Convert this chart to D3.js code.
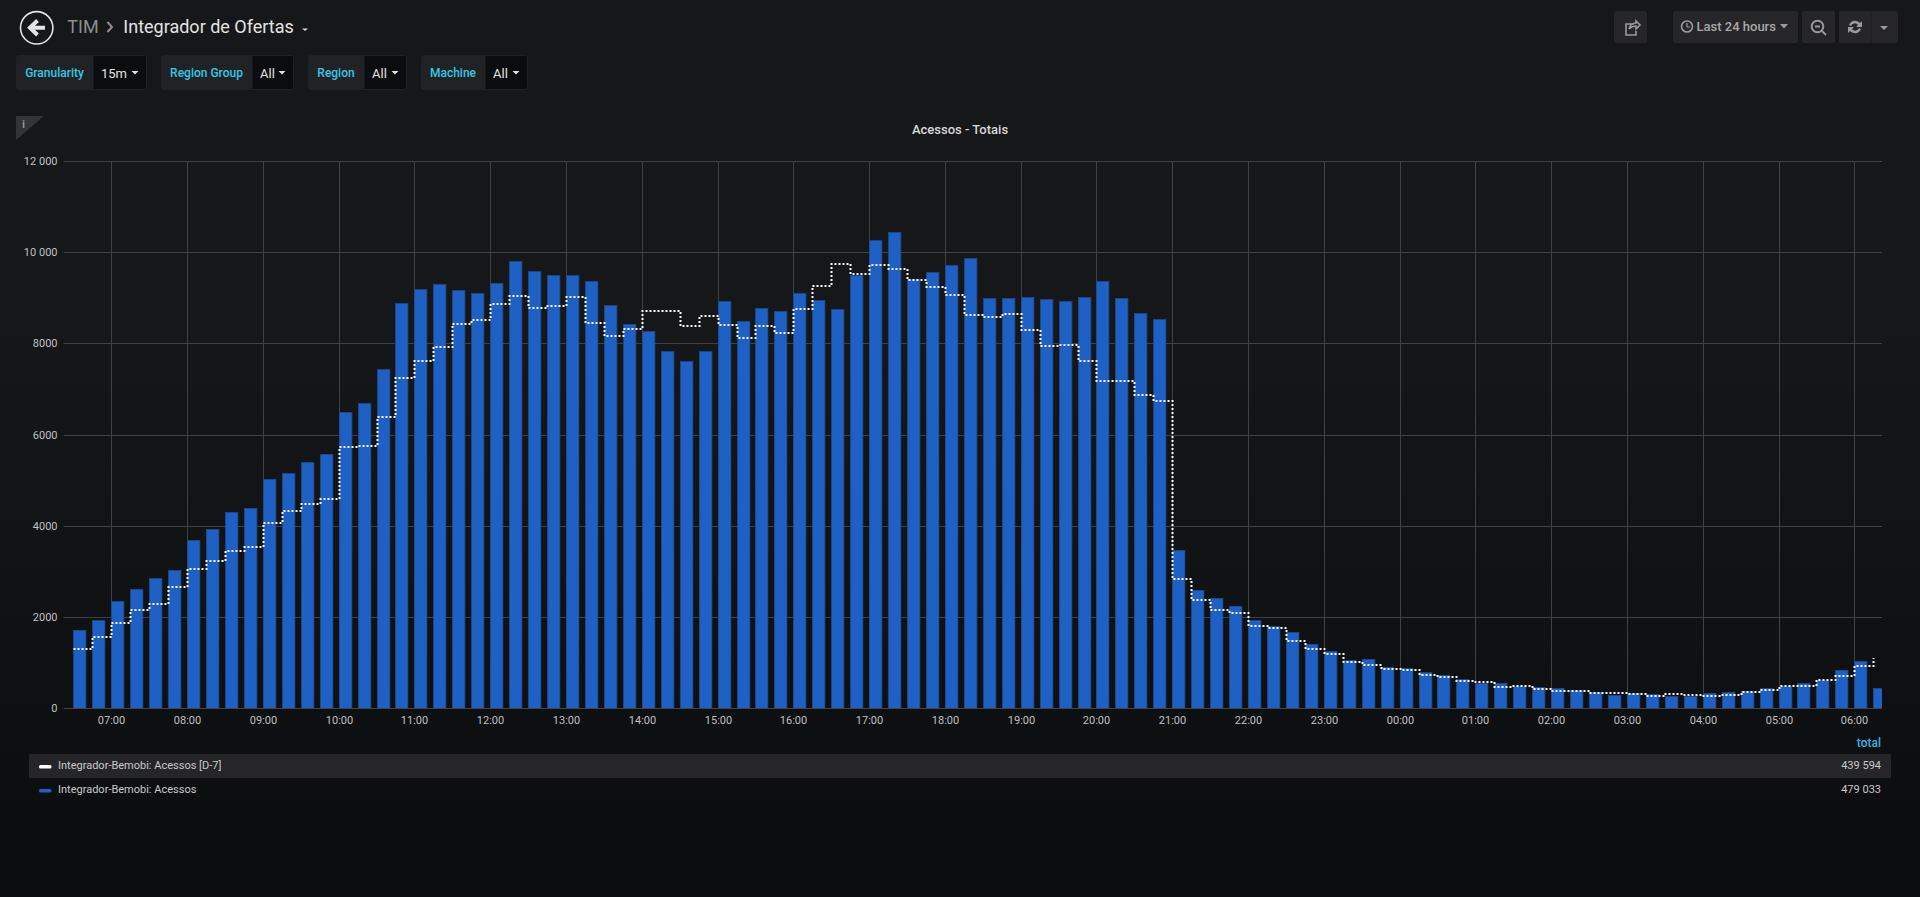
<!DOCTYPE html>
<html>
<head>
<meta charset="utf-8">
<script src="https://cdnjs.cloudflare.com/ajax/libs/d3/7.8.5/d3.min.js"></script>
<style>
html, body { margin: 0; padding: 0; height: 100%; overflow: hidden; background: #0b0c0e; }
svg { display: block; }
text { font-family: Roboto, "Noto Sans", sans-serif; }
</style>
</head>
<body>
<svg id="board"></svg>
<script>
// 15m buckets, first one at 06:30
const firstBucket = "2019-01-01T06:30:00Z";
const yTicks = [0, 2000, 4000, 6000, 8000, 10000, 12000];

const acessos = [
  1711, 1931, 2340, 2611, 2845, 3020, 3686, 3927, 4293, 4380, 5017, 5163, 5390, 5573,
  6501, 6691, 7430, 8893, 9192, 9295, 9178, 9100, 9317, 9814, 9587, 9500, 9492, 9375,
  8834, 8417, 8264, 7832, 7605, 7832, 8937, 8483, 8776, 8710, 9105, 8944, 8754, 9500,
  10260, 10443, 9404, 9558, 9719, 9880, 8988, 8988, 9024, 8980, 8922, 9010, 9368, 9002,
  8666, 8542, 3466, 2581, 2406, 2230, 1938, 1799, 1660, 1397, 1243, 1053, 1068, 892,
  878, 797, 731, 644, 556, 541, 475, 453, 431, 388, 344, 285, 322, 300,
  271, 256, 322, 351, 366, 439, 490, 541, 614, 826, 1038, 431
];
const acessosD7 = [
  1294, 1565, 1872, 2150, 2274, 2647, 3050, 3218, 3444, 3525, 4051, 4315, 4468, 4578,
  5733, 5755, 6384, 7232, 7613, 7927, 8425, 8520, 8856, 9032, 8776, 8819, 9017, 8446,
  8154, 8308, 8717, 8717, 8381, 8600, 8403, 8117, 8381, 8227, 8746, 9265, 9741, 9529,
  9726, 9631, 9390, 9236, 9068, 8615, 8571, 8644, 8300, 7949, 7964, 7613, 7167, 7167,
  6867, 6743, 2837, 2377, 2150, 2077, 1799, 1762, 1463, 1302, 1177, 1009, 936, 848,
  841, 731, 687, 600, 563, 461, 483, 410, 373, 373, 322, 336, 307, 263,
  307, 285, 263, 293, 344, 388, 475, 490, 614, 702, 921, 1090
];
const legendNames = ["Integrador-Bemobi: Acessos [D-7]", "Integrador-Bemobi: Acessos"];
const legendTotals = ["439 594", "479 033"];
const varLabels = ["Granularity", "Region Group", "Region", "Machine"];
const varValues = ["15m", "All", "All", "All"];

const w = 1920, h = 897;
const svg = d3.select("#board").attr("width", w).attr("height", h);

const defs = svg.append("defs");
const grad = defs.append("linearGradient").attr("id", "page").attr("x1", 0).attr("y1", 0).attr("x2", 0).attr("y2", 1);
grad.append("stop").attr("offset", 0).attr("stop-color", "#161719");
grad.append("stop").attr("offset", 0.35).attr("stop-color", "#161719");
grad.append("stop").attr("offset", 1).attr("stop-color", "#0b0c0e");
svg.append("rect").attr("width", w).attr("height", h).attr("fill", "url(#page)");
defs.append("clipPath").attr("id", "plot").append("rect")
  .attr("x", 63.5).attr("y", 150).attr("width", 1818.5).attr("height", 558);

// time buckets
const start = new Date(firstBucket);
const times = acessos.map((d, i) => d3.utcMinute.offset(start, i * 15));

const x = d3.scaleUtc()
  .domain([new Date("2019-01-01T06:22:09Z"), new Date("2019-01-02T06:21:56Z")])
  .rangeRound([63.5, 1882]);
const y = d3.scaleLinear().domain([0, 12000]).rangeRound([708, 161]);

const fmtY = v => v >= 10000 ? d3.format(",")(v).replace(",", " ") : String(v);

// Grid + axes
const gridColor = "#414143";
const yAxis = svg.append("g").attr("transform", "translate(63.5,0)")
  .call(d3.axisLeft(y).tickValues(yTicks).tickFormat(fmtY).tickSize(-1818.5).tickPadding(6));
const xAxis = svg.append("g").attr("transform", "translate(0,708)")
  .call(d3.axisBottom(x).ticks(d3.utcHour.every(1)).tickFormat(d3.utcFormat("%H:%M")).tickSize(-547).tickPadding(8));
[yAxis, xAxis].forEach(a => {
  a.select(".domain").remove();
  a.selectAll("line").attr("stroke", gridColor).attr("stroke-width", 1);
  a.selectAll("text").attr("fill", "#c0c0c0").attr("font-size", 11);
});

// Bars
svg.append("g").attr("clip-path", "url(#plot)")
  .selectAll("rect")
  .data(acessos)
  .join("rect")
  .attr("x", (d, i) => x(times[i]) + 0.5)
  .attr("y", d => y(d) + 0.5)
  .attr("width", 12.4)
  .attr("height", d => 708 - y(d))
  .attr("fill", "#1f60c4")
  .attr("stroke", "#1d4a90")
  .attr("stroke-width", 0.8);

// D-7 line
const line = d3.line()
  .x((d, i) => x(times[i]) + 0.5)
  .y(d => y(d))
  .curve(d3.curveStepAfter);
svg.append("path")
  .attr("d", line(acessosD7))
  .attr("fill", "none")
  .attr("stroke", "#fff")
  .attr("stroke-width", 2)
  .attr("stroke-dasharray", "2 2");

// Panel title
svg.append("text").attr("x", 960).attr("y", 133.5).attr("text-anchor", "middle")
  .attr("fill", "#d8d9da").attr("font-size", 13).attr("font-weight", 500)
  .text("Acessos - Totais");

// Legend
svg.append("text").attr("x", 1881).attr("y", 747).attr("text-anchor", "end")
  .attr("fill", "#33b5e5").attr("font-size", 12).attr("font-weight", 500).text("total");
svg.append("rect").attr("x", 29).attr("y", 754).attr("width", 1862).attr("height", 24).attr("fill", "#262628");
legendNames.forEach((name, i) => {
  const cy = 766 + i * 24;
  svg.append("rect").attr("x", 39).attr("y", cy - 1).attr("width", 12.5).attr("height", 3.5).attr("rx", 1.5)
    .attr("fill", i == 0 ? "#fff" : "#1f60c4");
  svg.append("text").attr("x", 58).attr("y", cy + 2.5).attr("fill", "#c8c9ca").attr("font-size", 11).text(name);
  svg.append("text").attr("x", 1881).attr("y", cy + 3).attr("text-anchor", "end")
    .attr("fill", "#c8c9ca").attr("font-size", 11).text(legendTotals[i]);
});

// Navbar
svg.append("circle").attr("cx", 36.7).attr("cy", 27.8).attr("r", 16.2)
  .attr("fill", "none").attr("stroke", "#e3e3e3").attr("stroke-width", 1.6);
svg.append("path").attr("d", "M45 27.8H32 M37.5 20.5L30 27.8L37.5 35")
  .attr("fill", "none").attr("stroke", "#e3e3e3").attr("stroke-width", 4);
svg.append("text").attr("x", 67.3).attr("y", 33).attr("fill", "#8e8e8e").attr("font-size", 18).text("TIM");
svg.append("path").attr("d", "M107.5 22L112 27L107.5 32").attr("fill", "none").attr("stroke", "#8e8e8e").attr("stroke-width", 2);
svg.append("text").attr("x", 123.3).attr("y", 33).attr("fill", "#e3e3e3").attr("font-size", 18).text("Integrador de Ofertas");
svg.append("path").attr("d", "M302 28.5h6l-3 2.6z").attr("fill", "#d8d9da");

const btn = (bx, bw) => svg.append("rect").attr("x", bx).attr("y", 11).attr("width", bw).attr("height", 32)
  .attr("rx", 2).attr("fill", "#262628");
btn(1614, 33); btn(1673, 125); btn(1802, 33); btn(1839, 59);
const iconC = "#9a9a9a";
svg.append("path").attr("d", "M1634 24h-8v11h10v-4 M1629 29c1-4 4-6 7-6v-2l4 4-4 4v-3c-3 0-5 1-7 3")
  .attr("fill", "none").attr("stroke", iconC).attr("stroke-width", 1.6);
svg.append("circle").attr("cx", 1687).attr("cy", 26.5).attr("r", 5.5).attr("fill", "none").attr("stroke", iconC).attr("stroke-width", 1.6);
svg.append("path").attr("d", "M1687 23v4h3").attr("fill", "none").attr("stroke", iconC).attr("stroke-width", 1.2);
svg.append("text").attr("x", 1696.5).attr("y", 31).attr("fill", "#a8a8a8").attr("font-size", 13).attr("font-weight", 500).text("Last 24 hours");
svg.append("path").attr("d", "M1780 24h8l-4 4.5z").attr("fill", iconC);
svg.append("circle").attr("cx", 1817.5).attr("cy", 26.5).attr("r", 5.8).attr("fill", "none").attr("stroke", iconC).attr("stroke-width", 2);
svg.append("path").attr("d", "M1815 26.5h5 M1822 31l4 4").attr("stroke", iconC).attr("stroke-width", 1.8);
svg.append("path").attr("d", "M1849 25a6.5 6.5 0 0 1 11-2l2-2v6h-6l2-2a4 4 0 0 0-7 1z M1861 29a6.5 6.5 0 0 1-11 2l-2 2v-6h6l-2 2a4 4 0 0 0 7-1z").attr("fill", iconC);
svg.append("rect").attr("x", 1870.5).attr("y", 11).attr("width", 1).attr("height", 32).attr("fill", "#1e1e20");
svg.append("path").attr("d", "M1880 26h8l-4 4z").attr("fill", iconC);

// Template variables
const varBoxes = [[16, 93, 146], [161, 252, 293], [308, 364, 406], [421, 485, 527]];
varLabels.forEach((label, i) => {
  const [a, b, c] = varBoxes[i];
  svg.append("rect").attr("x", a + .5).attr("y", 55.5).attr("width", c - a).attr("height", 34).attr("rx", 2)
    .attr("fill", "#0b0c0e").attr("stroke", "#1f2023");
  svg.append("rect").attr("x", a + .5).attr("y", 55.5).attr("width", b - a).attr("height", 34).attr("rx", 2)
    .attr("fill", "#212226");
  svg.append("text").attr("x", (a + b) / 2).attr("y", 77).attr("text-anchor", "middle")
    .attr("fill", "#33c8e4").attr("font-size", 12).attr("font-weight", 500).text(label);
  svg.append("text").attr("x", b + 8).attr("y", 77.5).attr("fill", "#e3e3e3").attr("font-size", 13).text(varValues[i]);
  svg.append("path").attr("d", `M${c - 14.5} 71h7l-3.5 3.5z`).attr("fill", "#e3e3e3");
});

// Info corner
svg.append("path").attr("d", "M16 116H44L16 140z").attr("fill", "#333436");
svg.append("text").attr("x", 23.7).attr("y", 128).attr("text-anchor", "middle").attr("fill", "#9a9a9a")
  .attr("font-size", 10).attr("font-family", "DejaVu Serif").attr("font-weight", 700).text("i");
</script>
</body>
</html>
